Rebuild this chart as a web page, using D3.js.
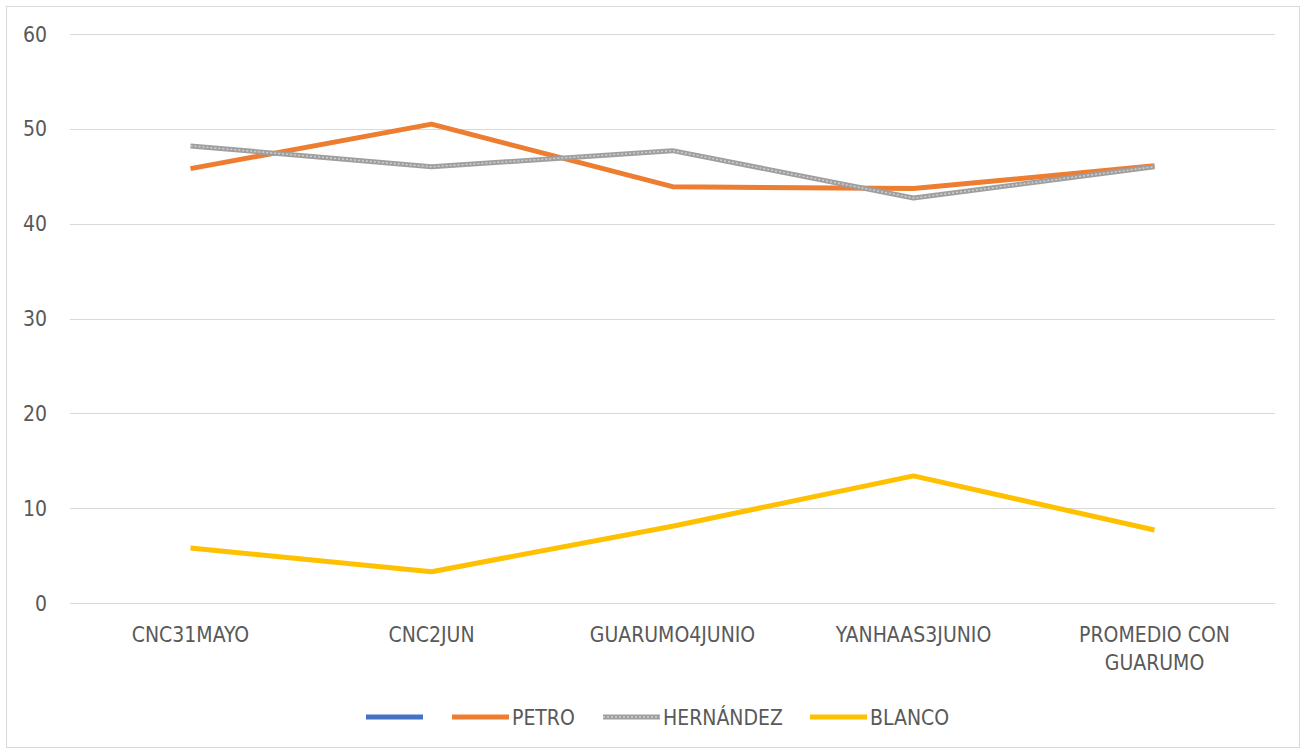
<!DOCTYPE html>
<html lang="en">
<head>
    <meta charset="UTF-8">
    <title>Encuestas</title>
    <script src="https://d3js.org/d3.v7.min.js"></script>
    <style>
        body { margin: 0; background: white; }
        text { font-family: "DejaVu Sans Condensed", "Liberation Sans Narrow", sans-serif; fill: #595959; }
        .grid line { stroke: #d9d9d9; stroke-width: 1; }
        .series { fill: none; stroke-width: 5; stroke-linejoin: round; }
    </style>
</head>
<body>
    <svg id="chart"></svg>
    <script>
        // data
        var categories = [["CNC31MAYO"], ["CNC2JUN"], ["GUARUMO4JUNIO"], ["YANHAAS3JUNIO"], ["PROMEDIO CON", "GUARUMO"]];
        var petro = [45.8, 50.5, 43.9, 43.7, 46.1];
        var hernandez = [48.2, 46.0, 47.7, 42.7, 46.0];
        var blanco = [5.8, 3.3, 8.1, 13.4, 7.7];
        var yTicks = [0, 10, 20, 30, 40, 50, 60];
        var seriesNames = ["", "PETRO", "HERNÁNDEZ", "BLANCO"];

        var width = 1306, height = 753;
        var svg = d3.select("#chart").attr("width", width).attr("height", height);

        svg.append("rect")
            .attr("x", 6.5).attr("y", 6.5)
            .attr("width", 1293).attr("height", 741)
            .attr("fill", "white").attr("stroke", "#d9d9d9");

        var plotLeft = 70, plotRight = 1275, plotTop = 34, plotBottom = 603;

        var x = d3.scaleBand().domain(d3.range(categories.length)).range([plotLeft, plotRight]);
        var y = d3.scaleLinear().domain([0, 60]).range([plotBottom, plotTop]);

        // grid + y labels
        var grid = svg.append("g").attr("class", "grid");
        grid.selectAll("line").data(yTicks).enter().append("line")
            .attr("x1", plotLeft).attr("x2", plotRight)
            .attr("y1", d => Math.round(y(d)) + 0.5)
            .attr("y2", d => Math.round(y(d)) + 0.5);
        svg.append("g").selectAll("text").data(yTicks).enter().append("text")
            .attr("x", 47).attr("y", d => y(d))
            .attr("dy", "0.36em")
            .attr("text-anchor", "end")
            .style("font-size", "21px")
            .text(d => d);

        // x labels
        var xl = svg.append("g").selectAll("text").data(categories).enter().append("text")
            .attr("text-anchor", "middle")
            .attr("x", (d, i) => x(i) + x.bandwidth() / 2)
            .attr("y", 642)
            .style("font-size", "21px");
        xl.selectAll("tspan").data(d => d).enter().append("tspan")
            .attr("x", function () { return d3.select(this.parentNode).attr("x"); })
            .attr("dy", (d, i) => i === 0 ? 0 : 28)
            .text(d => d);

        var line = d3.line()
            .x((d, i) => x(i) + x.bandwidth() / 2)
            .y(d => y(d));

        svg.append("path").datum(petro).attr("class", "series")
            .attr("stroke", "#ED7D31").attr("d", line);

        svg.append("path").datum(hernandez).attr("class", "series")
            .attr("stroke", "#9f9f9f").attr("d", line);
        svg.append("path").datum(hernandez).attr("class", "series")
            .attr("stroke", "#cfcfcf").style("stroke-width", 1.5)
            .attr("stroke-dasharray", "2,2").attr("d", line);

        svg.append("path").datum(blanco).attr("class", "series")
            .attr("stroke", "#FFC000").attr("d", line);

        // legend
        var legendItems = [
            { name: seriesNames[0], color: "#4472C4", x: 366 },
            { name: seriesNames[1], color: "#ED7D31", x: 452 },
            { name: seriesNames[2], color: "#9f9f9f", x: 603, hatch: true },
            { name: seriesNames[3], color: "#FFC000", x: 810 }
        ];
        var lg = svg.append("g").selectAll("g").data(legendItems).enter().append("g")
            .attr("transform", d => "translate(" + d.x + ",717)");
        lg.append("line").attr("x1", 0).attr("x2", 57).attr("y1", 0).attr("y2", 0)
            .attr("stroke", d => d.color).attr("stroke-width", 5);
        lg.filter(d => d.hatch).append("line").attr("x1", 0).attr("x2", 57)
            .attr("stroke", "#cfcfcf").attr("stroke-width", 1.5).attr("stroke-dasharray", "2,2");
        lg.append("text").attr("x", 60).attr("dy", "0.36em")
            .style("font-size", "21px").text(d => d.name);
    </script>
</body>
</html>
